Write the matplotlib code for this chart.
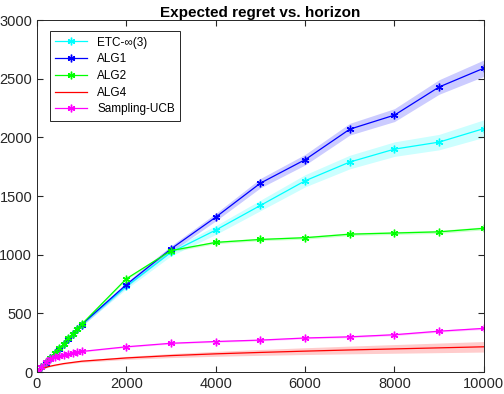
import numpy as np
import matplotlib.pyplot as plt

plt.rcParams['font.family'] = ['Liberation Sans', 'DejaVu Sans']

horizon = [0, 100, 200, 300, 400, 500, 600, 700, 800, 900, 1000,
           2000, 3000, 4000, 5000, 6000, 7000, 8000, 9000, 10000]

etc_mean = [0, 40, 80, 120, 160, 200, 240, 285, 325, 365, 405,
            730, 1020, 1210, 1420, 1630, 1790, 1900, 1960, 2075]
etc_std = [0, 3, 5, 6, 8, 9, 10, 11, 12, 13, 14,
           22, 30, 38, 45, 52, 58, 62, 66, 75]

alg1_mean = [0, 40, 80, 120, 160, 200, 240, 285, 325, 365, 405,
             745, 1050, 1320, 1610, 1810, 2070, 2190, 2430, 2590]
alg1_std = [0, 3, 5, 6, 8, 9, 10, 11, 12, 13, 14,
            20, 26, 32, 40, 45, 50, 55, 62, 70]

alg2_mean = [0, 42, 82, 122, 162, 202, 242, 287, 327, 367, 407,
             795, 1035, 1105, 1130, 1145, 1175, 1185, 1195, 1225]
alg2_std = [0, 2, 3, 4, 4, 5, 5, 6, 6, 6, 7,
            9, 10, 11, 11, 12, 12, 12, 13, 13]

alg4_mean = [0, 25, 40, 50, 58, 65, 72, 77, 82, 87, 92,
             120, 140, 155, 167, 178, 188, 197, 206, 215]
alg4_std = [0, 3, 4, 5, 6, 6, 7, 7, 8, 8, 9,
            13, 17, 21, 25, 29, 33, 37, 41, 45]

sucb_mean = [0, 45, 85, 115, 130, 140, 148, 155, 160, 168, 175,
             215, 245, 260, 272, 290, 300, 318, 348, 372]
sucb_std = [0, 2, 3, 3, 4, 4, 4, 4, 5, 5, 5,
            6, 6, 7, 7, 7, 8, 8, 8, 9]

series = [
    ("ETC-\u221e(3)", etc_mean, etc_std, "#00ffff", True),
    ("ALG1", alg1_mean, alg1_std, "#0000ff", True),
    ("ALG2", alg2_mean, alg2_std, "#00ff00", True),
    ("ALG4", alg4_mean, alg4_std, "#ff0000", False),
    ("Sampling-UCB", sucb_mean, sucb_std, "#ff00ff", True),
]

fig = plt.figure(figsize=(5.04, 3.94), dpi=100)
ax = fig.add_axes([0.0734, 0.0558, 0.8866, 0.8932])

x = np.array(horizon)
for name, m, s, c, mk in series:
    m = np.array(m)
    s = np.array(s)
    ax.fill_between(x, m - s, m + s, color=c, alpha=0.2, linewidth=0)
for name, m, s, c, mk in series:
    ax.plot(x, m, color=c, marker=(6, 2, 0) if mk else None, markersize=5.5,
            markeredgewidth=1.0, linewidth=0.9, label=name)

ax.set_xlim(0, 10000)
ax.set_ylim(0, 3000)
ax.set_xticks([0, 2000, 4000, 6000, 8000, 10000])
ax.set_yticks([0, 500, 1000, 1500, 2000, 2500, 3000])
ax.tick_params(direction='in', top=True, right=True, labelsize=10.5,
               colors='#262626', length=4)
for sp in ax.spines.values():
    sp.set_color('#262626')
    sp.set_linewidth(0.7)

ax.set_title("Expected regret vs. horizon", fontsize=11, fontweight='bold', pad=2)

leg = ax.legend(loc='upper left', fontsize=8.5, fancybox=False, framealpha=1,
                edgecolor='#262626', borderpad=0.45, handlelength=2.7,
                handletextpad=0.9, labelspacing=0.4,
                bbox_to_anchor=(0.015, 0.985))
leg.get_frame().set_linewidth(0.7)

fig.savefig("out.png", dpi=100)
